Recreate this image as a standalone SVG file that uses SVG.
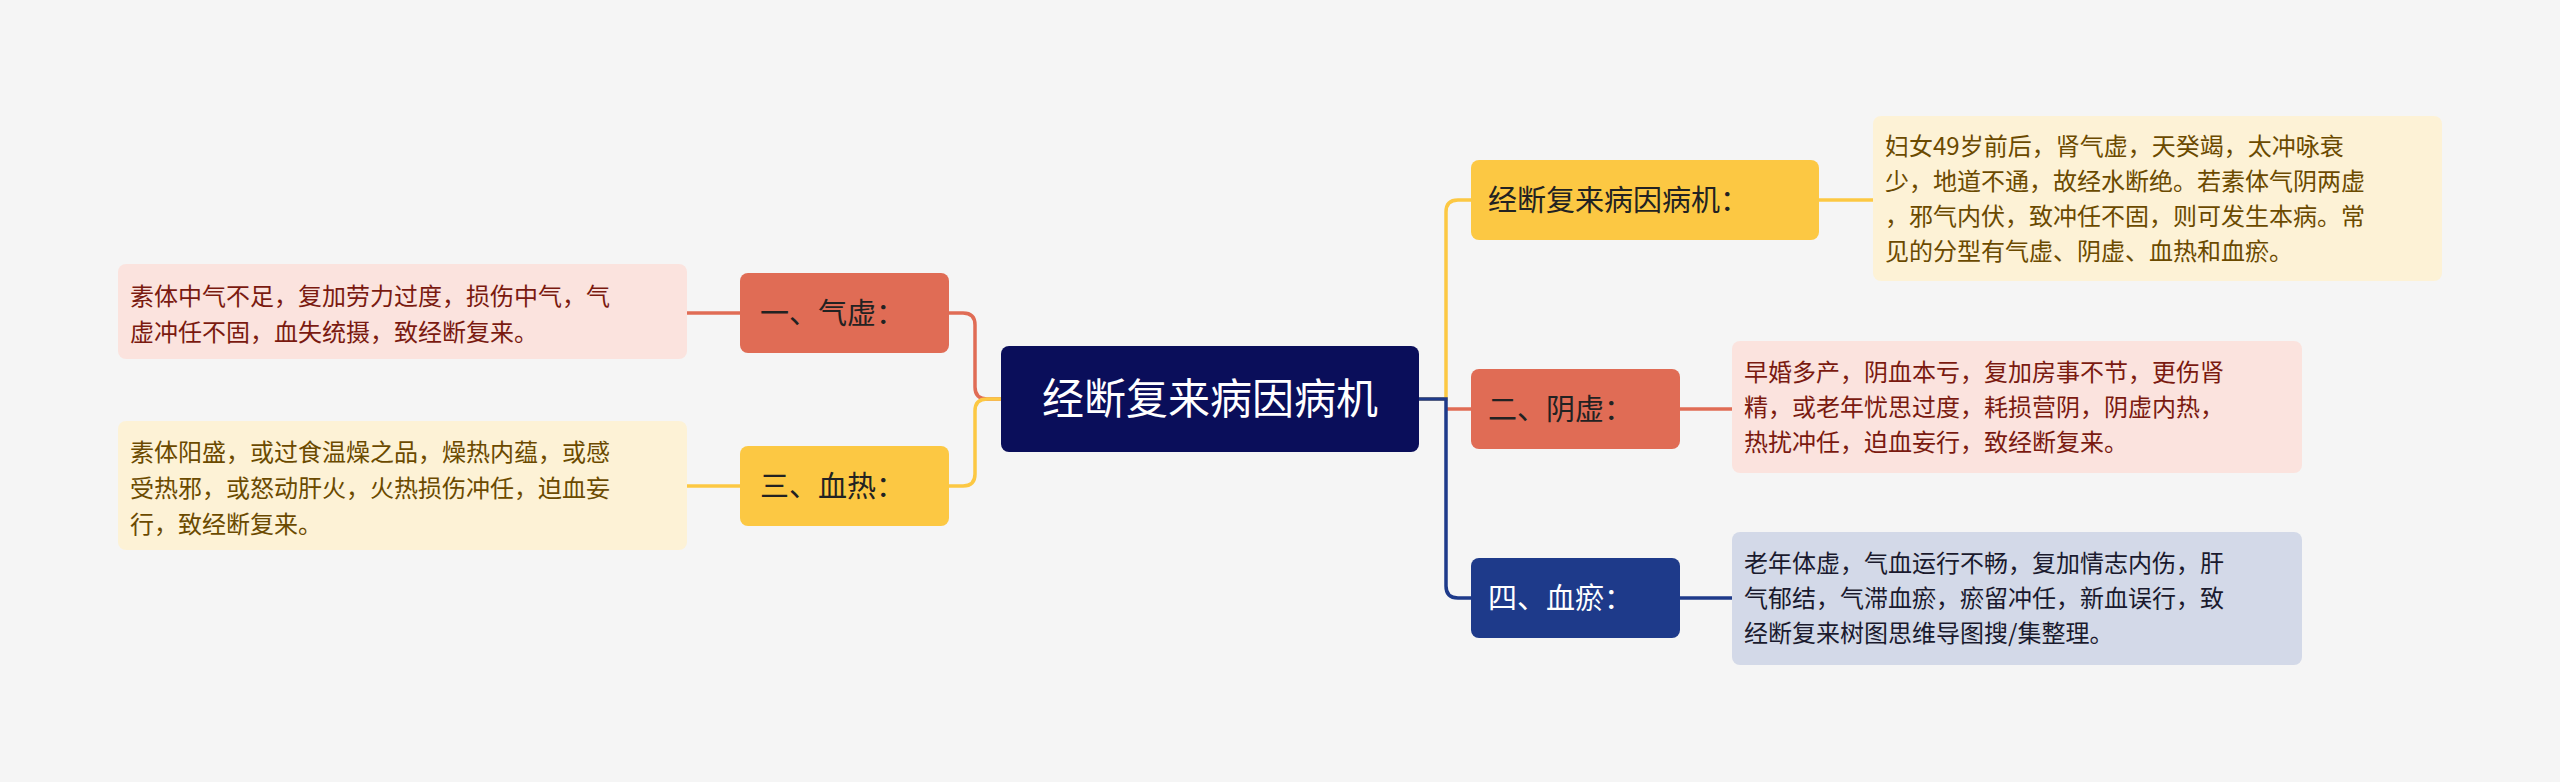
<svg xmlns="http://www.w3.org/2000/svg" width="2560" height="782" viewBox="0 0 2560 782">
<style>
text{font-family:"Noto Sans CJK SC","Noto Sans",sans-serif}
.t{font-size:24px}
.l{font-size:29px}
.c{fill:none;stroke-width:3.5}
</style>
<rect width="2560" height="782" fill="#f5f5f5"/>
<g id="connectors">
<path class="c" stroke="#e06c55" d="M1001 399 H987 Q975 399 975 387 V325 Q975 313 963 313 H949"/>
<path class="c" stroke="#fcc843" d="M1001 399 H987 Q975 399 975 411 V474 Q975 486 963 486 H949"/>
<path class="c" stroke="#e06c55" d="M740 313 H687"/>
<path class="c" stroke="#fcc843" d="M740 486 H687"/>
<path class="c" stroke="#fcc843" d="M1419 399 H1446 V212 Q1446 200 1458 200 H1471"/>
<path class="c" stroke="#e06c55" d="M1446 409 H1471"/>
<path class="c" stroke="#1e3a8a" d="M1419 399 H1446 V586 Q1446 598 1458 598 H1471"/>
<path class="c" stroke="#fcc843" d="M1819 200 H1873"/>
<path class="c" stroke="#e06c55" d="M1680 409 H1732"/>
<path class="c" stroke="#1e3a8a" d="M1680 598 H1732"/>
</g>
<g id="center"><rect x="1001" y="346" width="418" height="106" rx="8" fill="#0a0e5a"/><text x="1210" y="414" font-size="42" fill="#fff" text-anchor="middle">经断复来病因病机</text></g>
<g id="n1"><rect x="740" y="273" width="209" height="80" rx="8" fill="#e06c55"/><text class="l" x="760" y="324" fill="#222">一、气虚：</text></g>
<g id="n3"><rect x="740" y="446" width="209" height="80" rx="8" fill="#fcc843"/><text class="l" x="760" y="497" fill="#222">三、血热：</text></g>
<g id="d1"><rect x="118" y="264" width="569" height="95" rx="8" fill="#fbe3de"/><text class="t" fill="#7a1a10"><tspan x="130" y="305">素体中气不足，复加劳力过度，损伤中气，气</tspan><tspan x="130" y="341">虚冲任不固，血失统摄，致经断复来。</tspan></text></g>
<g id="d3"><rect x="118" y="421" width="569" height="129" rx="8" fill="#fdf2d6"/><text class="t" fill="#6b4a00"><tspan x="130" y="461">素体阳盛，或过食温燥之品，燥热内蕴，或感</tspan><tspan x="130" y="497">受热邪，或怒动肝火，火热损伤冲任，迫血妄</tspan><tspan x="130" y="533">行，致经断复来。</tspan></text></g>
<g id="n0"><rect x="1471" y="160" width="348" height="80" rx="8" fill="#fcc843"/><text class="l" x="1488" y="211" fill="#222">经断复来病因病机：</text></g>
<g id="d0"><rect x="1873" y="116" width="569" height="165" rx="8" fill="#fdf2d6"/><text class="t" fill="#6b4a00"><tspan x="1885" y="155">妇女49岁前后，肾气虚，天癸竭，太冲咏衰</tspan><tspan x="1885" y="190">少，地道不通，故经水断绝。若素体气阴两虚</tspan><tspan x="1885" y="225">，邪气内伏，致冲任不固，则可发生本病。常</tspan><tspan x="1885" y="260">见的分型有气虚、阴虚、血热和血瘀。</tspan></text></g>
<g id="n2"><rect x="1471" y="369" width="209" height="80" rx="8" fill="#e06c55"/><text class="l" x="1488" y="420" fill="#222">二、阴虚：</text></g>
<g id="d2"><rect x="1732" y="341" width="570" height="132" rx="8" fill="#fbe3de"/><text class="t" fill="#7a1a10"><tspan x="1744" y="381">早婚多产，阴血本亏，复加房事不节，更伤肾</tspan><tspan x="1744" y="416">精，或老年忧思过度，耗损营阴，阴虚内热，</tspan><tspan x="1744" y="451">热扰冲任，迫血妄行，致经断复来。</tspan></text></g>
<g id="n4"><rect x="1471" y="558" width="209" height="80" rx="8" fill="#1e3a8a"/><text class="l" x="1488" y="609" fill="#fff">四、血瘀：</text></g>
<g id="d4"><rect x="1732" y="532" width="570" height="133" rx="8" fill="#d3d9e8"/><text class="t" fill="#1a1a2e"><tspan x="1744" y="572">老年体虚，气血运行不畅，复加情志内伤，肝</tspan><tspan x="1744" y="607">气郁结，气滞血瘀，瘀留冲任，新血误行，致</tspan><tspan x="1744" y="642">经断复来树图思维导图搜/集整理。</tspan></text></g>
</svg>
